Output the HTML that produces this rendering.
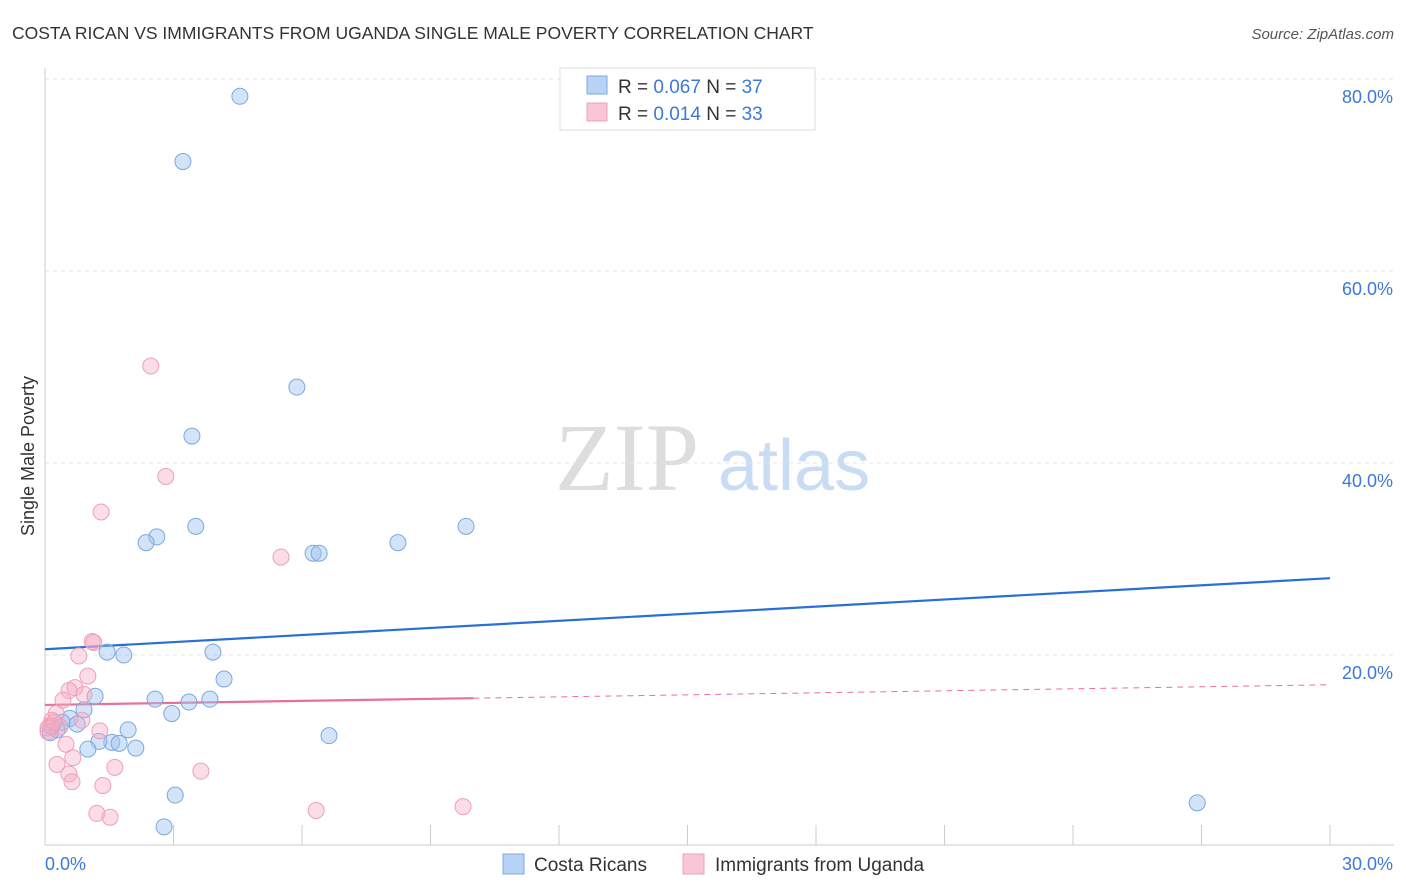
<!DOCTYPE html>
<html><head><meta charset="utf-8"><style>
body{margin:0;background:#fff;font-family:"Liberation Sans",sans-serif;}
svg{display:block}
</style></head><body>
<svg id="chart" width="1406" height="892">
<text x="12" y="39" font-size="17.5" fill="#333">COSTA RICAN VS IMMIGRANTS FROM UGANDA SINGLE MALE POVERTY CORRELATION CHART</text>
<text x="1394" y="39" font-size="15" fill="#555" font-style="italic" text-anchor="end">Source: ZipAtlas.com</text>
<text x="34" y="456" font-size="18" fill="#333" transform="rotate(-90 34 456)" text-anchor="middle">Single Male Poverty</text>
<text x="555" y="490" font-size="96" fill="#ddd" font-family="Liberation Serif,serif">ZIP</text>
<text x="718" y="490" font-size="72" fill="#c8dcf3">atlas</text>
<g id="grid"></g><g id="axes"></g><g id="lines"></g><g id="pts"></g>
<g>
<rect x="560" y="68" width="255" height="62" fill="#fff" stroke="#ddd"/>
<rect x="587" y="76" width="20" height="18" fill="#b8d3f5" stroke="#7aa8e0"/>
<text x="618" y="93" font-size="19" fill="#333">R = <tspan fill="#3d78d8">0.067</tspan>   N = <tspan fill="#3d78d8">37</tspan></text>
<rect x="587" y="103" width="20" height="18" fill="#f8c6d6" stroke="#eea0b8"/>
<text x="618" y="120" font-size="19" fill="#333">R =  <tspan fill="#3d78d8">0.014</tspan>   N = <tspan fill="#3d78d8">33</tspan></text>
</g>
<g>
<rect x="503" y="854" width="21" height="20" fill="#b8d3f5" stroke="#7aa8e0"/>
<text x="534" y="871" font-size="19" fill="#333">Costa Ricans</text>
<rect x="683" y="854" width="21" height="20" fill="#f8c6d6" stroke="#eea0b8"/>
<text x="715" y="871" font-size="19" fill="#333">Immigrants from Uganda</text>
</g>
</svg>
<script>
const blueX=[4.55,3.22,5.88,3.43,3.52,2.61,2.36,9.83,8.24,6.26,6.40,1.45,1.84,3.92,4.18,1.17,2.57,3.36,3.85,0.91,2.96,0.58,0.40,0.75,0.28,0.12,1.94,1.56,1.26,1.73,2.12,1.00,6.63,3.04,2.78,26.9,0.16];
const blueY=[78.2,71.4,47.9,42.8,33.4,32.3,31.7,33.4,31.7,30.6,30.6,20.3,20.0,20.3,17.5,15.7,15.4,15.1,15.4,14.3,13.9,13.4,13.0,12.8,12.2,11.9,12.2,10.9,11.0,10.8,10.3,10.2,11.6,5.4,2.1,4.6,12.6];
const pinkX=[2.47,2.82,1.31,5.51,1.10,1.14,0.79,1.00,0.70,0.56,0.91,0.42,0.86,0.26,0.16,0.12,0.35,0.07,1.28,0.49,0.65,0.28,0.56,0.63,1.63,1.35,3.64,1.21,1.52,6.33,9.76,0.07,0.21];
const pinkY=[50.1,38.6,34.9,30.2,21.4,21.3,19.9,17.8,16.6,16.3,15.9,15.3,13.2,13.9,13.2,12.6,12.5,12.0,12.1,10.7,9.3,8.6,7.6,6.8,8.3,6.4,7.9,3.5,3.1,3.8,4.2,12.4,13.0];
const blueTrend=[20.6,28.0];
const pinkTrend=[14.8,16.9];
const pinkSolidEnd=10;
const yTicks=[20,40,60,80];
const xTickLabels=["0.0%","30.0%"];
const X0=45,X1=1330,Y0=847,YS=9.6;
const sx=v=>X0+(X1-X0)*v/30, sy=v=>Y0-v*YS;
const NS="http://www.w3.org/2000/svg";
function mk(p,t,a){const e=document.createElementNS(NS,t);for(const k in a)e.setAttribute(k,a[k]);document.getElementById(p).appendChild(e);return e;}
yTicks.forEach(t=>{
 const g=mk('grid','line',{x1:X0,x2:1394,y1:sy(t),y2:sy(t),stroke:'#e4e4e4','stroke-dasharray':'4,4'});
 
 
 const l=mk('grid','text',{x:1393,y:sy(t)+24,'font-size':18,fill:'#3d78d8','text-anchor':'end'});
 l.textContent=t.toFixed(1)+'%';
 
 
});
const ax=mk('axes','line',{x1:X0,x2:X0,y1:68,y2:845,stroke:'#ccc'});


const bx=mk('axes','line',{x1:X0,x2:1394,y1:845,y2:845,stroke:'#ccc'});


for(let i=0;i<=10;i++){const t=mk('axes','line',{x1:sx(i*3),x2:sx(i*3),y1:825,y2:845,stroke:'#ccc'});
 
 }
[[0,'start'],[30,'end']].forEach((d,i)=>{const t=mk('axes','text',{x:i?1393:45,y:870,'font-size':18,fill:'#3d78d8','text-anchor':d[1]});t.textContent=xTickLabels[i];
 
 });
function pts(xs,ys,fill,stroke,name){xs.forEach((x,i)=>{const c=mk('pts','circle',{cx:sx(x),cy:sy(ys[i]),r:8,fill:fill,stroke:stroke,'stroke-width':1});
 
 });}
pts(blueX,blueY,'rgba(160,196,240,0.45)','#7aa8e0','point-costa-rican');
pts(pinkX,pinkY,'rgba(245,170,195,0.4)','#eea0b8','point-uganda');
const bl=mk('lines','line',{x1:sx(0),y1:sy(blueTrend[0]),x2:sx(30),y2:sy(blueTrend[1]),stroke:'#2a6fd4','stroke-width':2.2});


const pm=pinkTrend[0]+(pinkTrend[1]-pinkTrend[0])*pinkSolidEnd/30;
const pl=mk('lines','line',{x1:sx(0),y1:sy(pinkTrend[0]),x2:sx(pinkSolidEnd),y2:sy(pm),stroke:'#e8709a','stroke-width':2.2});


const pd=mk('lines','line',{x1:sx(pinkSolidEnd),y1:sy(pm),x2:sx(30),y2:sy(pinkTrend[1]),stroke:'#e8709a','stroke-width':1,'stroke-dasharray':'6,5'});


</script>
</body></html>
